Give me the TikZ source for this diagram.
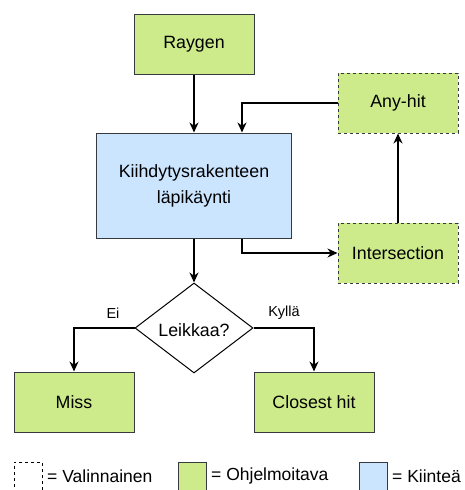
\documentclass[tikz,border=0pt]{standalone}
\usepackage{fontspec}
\setmainfont{Liberation Sans}
\usetikzlibrary{arrows.meta,shapes.geometric}
\definecolor{prog}{HTML}{CDEB8B}
\definecolor{fixed}{HTML}{CCE5FF}
\definecolor{edge}{HTML}{36393D}
\begin{document}
\begin{tikzpicture}[x=1pt,y=-1pt,
  font=\fontsize{17.8}{21}\selectfont,
  box/.style={draw=edge,line width=1pt,minimum width=120pt,minimum height=60pt,inner sep=2pt,align=center},
  progbox/.style={box,fill=prog},
  optbox/.style={progbox,dashed,dash pattern=on 3pt off 3pt},
  fixedbox/.style={box,fill=fixed,minimum width=195pt,minimum height=105pt},
  dec/.style={diamond,aspect=1.31,draw=black,line width=1pt,fill=white,minimum width=118pt,minimum height=90pt,inner sep=0pt},
  conn/.style={draw=black,line width=1.1pt,-{Stealth[length=10pt,width=9pt]}},
  lbl/.style={font=\fontsize{14.5}{17}\selectfont},
  leg/.style={font=\fontsize{17.5}{20}\selectfont}]
\useasboundingbox (0,0) rectangle (464,490);
\node[progbox] (raygen) at (194,44) {Raygen};
\node[fixedbox] (accel) at (194,185.5) {Kiihdytysrakenteen\\[5pt]läpikäynti};
\node[optbox] (anyhit) at (398,103) {Any-hit};
\node[optbox] (inter) at (398,253) {Intersection};
\node[dec] (leik) at (194,328) {};
\node at (194,330) (leiktxt) {Leikkaa?};
\node[progbox] (miss) at (74,402) {Miss};
\node[progbox] (closest) at (314,402) {Closest hit};
\coordinate (a1) at (242,103);
\coordinate (a2) at (242,253);
\draw[conn] (raygen) -- (accel);
\draw[conn] (accel.south east -| a2) -- (a2) -- (inter.west);
\draw[conn] (inter) -- (anyhit);
\draw[conn] (anyhit.west) -- (a1) -- (a1 |- accel.north);
\draw[conn] (accel) -- (leik);
\draw[conn] (leik.west) -| (miss.north);
\draw[conn] (leik.east) -| (closest.north);
\node[lbl] (ei) at (113,313) {Ei};
\node[lbl] (kylla) at (284,313) {Kyllä};
% legend
\node[draw=black,line width=1pt,dashed,dash pattern=on 3pt off 3pt,minimum width=28pt,minimum height=30pt,inner sep=0pt] (l1) at (28,477) {};
\node[anchor=west,inner sep=0pt,leg] (t1) at (47,476) {= Valinnainen};
\node[draw=edge,fill=prog,line width=1pt,minimum width=28pt,minimum height=30pt,inner sep=0pt] (l2) at (192,477) {};
\node[anchor=west,inner sep=0pt,leg] (t2) at (211,476) {= Ohjelmoitava};
\node[draw=edge,fill=fixed,line width=1pt,minimum width=28pt,minimum height=30pt,inner sep=0pt] (l3) at (373,477) {};
\node[anchor=west,inner sep=0pt,leg] (t3) at (392,476) {= Kiinteä};
\end{tikzpicture}
\end{document}
